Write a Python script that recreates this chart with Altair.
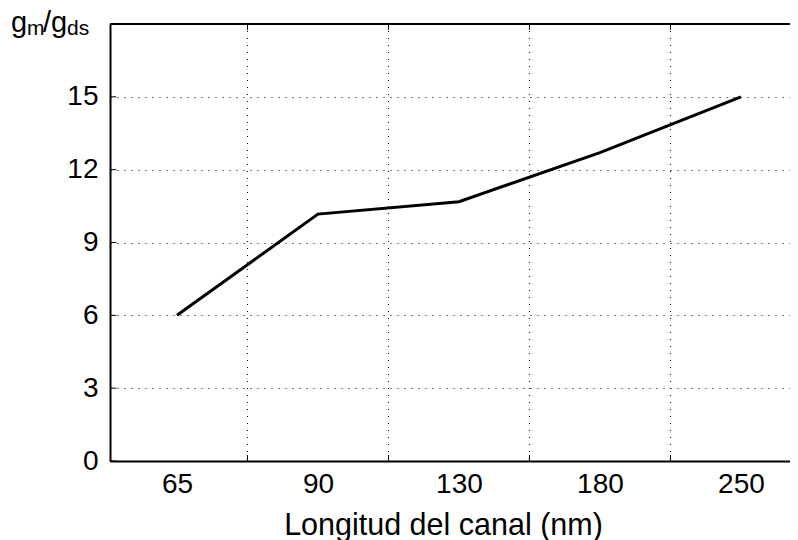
import altair as alt
import pandas as pd

# data
categories = ["65", "90", "130", "180", "250"]
ratio = [6.0, 10.17, 10.68, 12.70, 15.0]
y_ticks = [0, 3, 6, 9, 12, 15]
x_grid = [1.5, 2.5, 3.5, 4.5]

FONT = "Liberation Sans"
XDOM = [0.525, 5.348]
YDOM = [0, 18]

positions = list(range(1, len(categories) + 1))
df = pd.DataFrame({"x": positions, "cat": categories, "y": ratio})
vgrid_df = pd.DataFrame({"x": x_grid})
xtick_df = pd.DataFrame({
    "x": x_grid + x_grid,
    "y": [YDOM[0]] * len(x_grid) + [YDOM[1]] * len(x_grid),
    "y2": [YDOM[0] + 0.25] * len(x_grid) + [YDOM[1] - 0.25] * len(x_grid),
})
ytick_df = pd.DataFrame({"y": y_ticks, "x": [XDOM[0]] * len(y_ticks),
                         "x2": [XDOM[0] + 0.045] * len(y_ticks)})
top_df = pd.DataFrame({"y": [YDOM[1]]})

xs = alt.Scale(domain=XDOM, nice=False, zero=False)
ys = alt.Scale(domain=YDOM, nice=False, zero=False)

label_arr = "[" + ",".join("'" + c + "'" for c in categories) + "]"

xaxis = alt.Axis(values=positions,
                 labelExpr=label_arr + "[datum.value-1]",
                 ticks=False, grid=False, domainColor="black", domainWidth=2,
                 labelFont=FONT, labelFontSize=28, labelColor="black", labelPadding=9,
                 title="Longitud del canal (nm)", titleFont=FONT, titleFontSize=30.5,
                 titleFontWeight="normal", titleColor="black",
                 titleBaseline="alphabetic", titleY=73, titleX=333)
yaxis = alt.Axis(values=y_ticks, ticks=False, grid=True, gridColor="black",
                 gridDash=[1, 6], gridWidth=1, gridOpacity=1,
                 domainColor="black", domainWidth=2, title=None,
                 labelFont=FONT, labelFontSize=28, labelColor="black", labelPadding=12)

X = alt.X("x:Q", scale=xs, axis=xaxis)
Y = alt.Y("y:Q", scale=ys, axis=yaxis)

line = alt.Chart(df).mark_line(color="black", strokeWidth=3).encode(x=X, y=Y)

vgrid = alt.Chart(vgrid_df).mark_rule(color="black", strokeWidth=1, strokeDash=[1, 6]).encode(x=X)

xticks = alt.Chart(xtick_df).mark_rule(color="black", strokeWidth=1).encode(
    x=X, y=Y, y2="y2:Q"
)
yticks = alt.Chart(ytick_df).mark_rule(color="black", strokeWidth=1).encode(
    y=Y, x=X, x2="x2:Q"
)
top_border = alt.Chart(top_df).mark_rule(color="black", strokeWidth=2).encode(y=Y)

# y title g_m / g_ds with subscripts
def txt(s, x, y, size):
    return alt.Chart(top_df).mark_text(
        text=s, font=FONT, fontSize=size, color="black", align="left", baseline="alphabetic"
    ).encode(x=alt.value(x), y=alt.value(y))

ytitle = txt("g", -99, 8, 29) + txt("m", -83, 11, 21) + txt("/g", -67, 8, 29) + txt("ds", -43, 11, 21)

chart = alt.layer(vgrid, xticks, yticks, top_border, line, ytitle).properties(
    width=680, height=437,
    autosize=alt.AutoSizeParams(type="none"),
    padding={"left": 102, "top": 16, "right": 0, "bottom": 80},
).configure_view(stroke=None).configure(background="white")

chart.save("out.html", embed_options={"renderer": "svg", "actions": False})
